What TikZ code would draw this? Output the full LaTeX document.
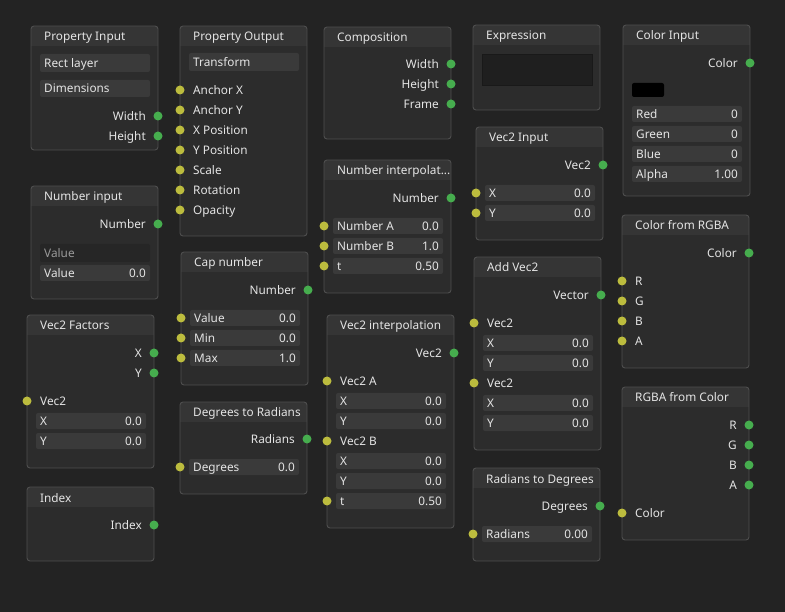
\documentclass[tikz,border=0pt]{standalone}
\usepackage{fontspec}
\setmainfont{Noto Sans}
\definecolor{bg}{HTML}{232323}
\definecolor{bodyc}{HTML}{2C2C2C}
\definecolor{headc}{HTML}{353535}
\definecolor{edgec}{HTML}{4E4E4E}
\definecolor{fldc}{HTML}{3A3A3A}
\definecolor{darkfld}{HTML}{262626}
\definecolor{txtc}{HTML}{E4E4E4}
\definecolor{dimtxt}{HTML}{9A9A9A}
\definecolor{outc}{HTML}{46AD4E}
\definecolor{inc}{HTML}{BCBC3E}
\newcounter{lb}
\tikzset{
  lbl/.style={text=txtc, inner sep=0pt, font=\fontsize{11.8}{14}\selectfont},
  dimlbl/.style={lbl, text=dimtxt},
  outport/.style={fill=outc},
  inport/.style={fill=inc},
  fieldbox/.style={fill=fldc, rounded corners=2pt},
  panelframe/.style={draw=edgec, line width=0.9pt, rounded corners=3pt},
}
\newcommand\PL{0}
\newcommand\PR{0}
\newcommand\panel[5]{%
  \renewcommand\PL{#2}\renewcommand\PR{#2+127}%
  \begin{scope}
    \clip[rounded corners=3pt] (#2,#3) rectangle ({#2+127},#4);
    \fill[bodyc] (#2,#3) rectangle ({#2+127},#4);
    \fill[headc] (#2,#3) rectangle ({#2+127},{#3+20});
  \end{scope}
  \draw[panelframe] (#2,#3) rectangle ({#2+127},#4);
  \node[lbl, anchor=base west] (#1) at ({#2+13},{#3+15}) {#5};}
\newcommand\outp[2]{%
  \stepcounter{lb}%
  \node[lbl, anchor=base east] (l\arabic{lb}) at ({\PR-12},{#1+4.5}) {#2};
  \fill[outport] ({\PR},#1) circle (4.5pt);}
\newcommand\inp[2]{%
  \stepcounter{lb}%
  \fill[inport] ({\PL},#1) circle (4.5pt);
  \node[lbl, anchor=base west] (l\arabic{lb}) at ({\PL+13},{#1+4.5}) {#2};}
\newcommand\fieldrow[3]{%
  \stepcounter{lb}%
  \fill[fieldbox] ({\PL+9},{#1-8}) rectangle ({\PR-8},{#1+8});
  \node[lbl, anchor=base west] (l\arabic{lb}) at ({\PL+13},{#1+4.5}) {#2};
  \stepcounter{lb}%
  \node[lbl, anchor=base east] (l\arabic{lb}) at ({\PR-12},{#1+4.5}) {#3};}
\newcommand\fieldin[3]{%
  \fieldrow{#1}{#2}{#3}%
  \fill[inport] ({\PL},#1) circle (4.5pt);}
\newcommand\widefield[3]{% top, bottom, label
  \stepcounter{lb}%
  \fill[fieldbox] ({\PL+9},#1) rectangle ({\PR-8},#2);
  \node[lbl, anchor=base west] (l\arabic{lb}) at ({\PL+13},{(#1+#2)/2+4.5}) {#3};}
\begin{document}
\begin{tikzpicture}[x=1pt,y=-1pt]
\fill[bg] (0,0) rectangle (785,612);
\useasboundingbox (0,0) rectangle (785,612);

% Property Input
\panel{PI}{31}{26}{150}{Property Input}
\widefield{54}{72}{Rect layer}
\widefield{80}{97}{Dimensions}
\outp{116}{Width}
\outp{136}{Height}

% Property Output
\panel{PO}{180}{26}{236}{Property Output}
\widefield{53}{71}{Transform}
\inp{90}{Anchor X}
\inp{110}{Anchor Y}
\inp{130}{X Position}
\inp{150}{Y Position}
\inp{170}{Scale}
\inp{190}{Rotation}
\inp{210}{Opacity}

% Composition
\panel{CO}{324}{27}{139}{Composition}
\outp{64}{Width}
\outp{84}{Height}
\outp{104}{Frame}

% Expression
\panel{EX}{473}{25}{110}{Expression}
\filldraw[fill=black!88, draw=edgec!130, line width=0.9pt] (482,54) rectangle (592,85);

% Color Input
\panel{CI}{623}{25}{196}{Color Input}
\outp{63}{Color}
\fill[black, rounded corners=2pt] (632,83) rectangle (664,97);
\fieldrow{114}{Red}{0}
\fieldrow{134}{Green}{0}
\fieldrow{154}{Blue}{0}
\fieldrow{174}{Alpha}{1.00}

% Number input
\panel{NI}{31}{186}{299}{Number input}
\outp{224}{Number}
\fill[darkfld, rounded corners=2pt] (40,244) rectangle (150,262);
\node[dimlbl, anchor=base west] (ph) at (44,257.5) {Value};
\fieldrow{273}{Value}{0.0}

% Cap number
\panel{CN}{181}{252}{385}{Cap number}
\outp{290}{Number}
\fieldin{318}{Value}{0.0}
\fieldin{338}{Min}{0.0}
\fieldin{358}{Max}{1.0}

% Number interpolation
\panel{NP}{324}{160}{293}{Number interpolat...}
\outp{198}{Number}
\fieldin{226}{Number A}{0.0}
\fieldin{246}{Number B}{1.0}
\fieldin{266}{t}{0.50}

% Vec2 Input
\panel{V2}{476}{127}{240}{Vec2 Input}
\outp{165}{Vec2}
\fieldin{193}{X}{0.0}
\fieldin{213}{Y}{0.0}

% Color from RGBA
\panel{CR}{622}{215}{368}{Color from RGBA}
\outp{253}{Color}
\inp{281}{R}
\inp{301}{G}
\inp{321}{B}
\inp{341}{A}

% Vec2 Factors
\panel{VF}{27}{315}{468}{Vec2 Factors}
\outp{353}{X}
\outp{373}{Y}
\inp{401}{Vec2}
\fieldrow{421}{X}{0.0}
\fieldrow{441}{Y}{0.0}

% Vec2 interpolation
\panel{VI}{327}{315}{528}{Vec2 interpolation}
\outp{353}{Vec2}
\inp{381}{Vec2 A}
\fieldrow{401}{X}{0.0}
\fieldrow{421}{Y}{0.0}
\inp{441}{Vec2 B}
\fieldrow{461}{X}{0.0}
\fieldrow{481}{Y}{0.0}
\fieldin{501}{t}{0.50}

% Add Vec2
\panel{AV}{474}{257}{450}{Add Vec2}
\outp{295}{Vector}
\inp{323}{Vec2}
\fieldrow{343}{X}{0.0}
\fieldrow{363}{Y}{0.0}
\inp{383}{Vec2}
\fieldrow{403}{X}{0.0}
\fieldrow{423}{Y}{0.0}

% Degrees to Radians
\panel{DR}{180}{402}{494}{Degrees to Radians}
\outp{439}{Radians}
\fieldin{467}{Degrees}{0.0}

% Index
\panel{IX}{27}{487}{561}{Index}
\outp{525}{Index}

% Radians to Degrees
\panel{RD}{473}{468}{561}{Radians to Degrees}
\outp{506}{Degrees}
\fieldin{534}{Radians}{0.00}

% RGBA from Color
\panel{RC}{622}{387}{540}{RGBA from Color}
\outp{425}{R}
\outp{445}{G}
\outp{465}{B}
\outp{485}{A}
\inp{513}{Color}
\end{tikzpicture}
\end{document}
